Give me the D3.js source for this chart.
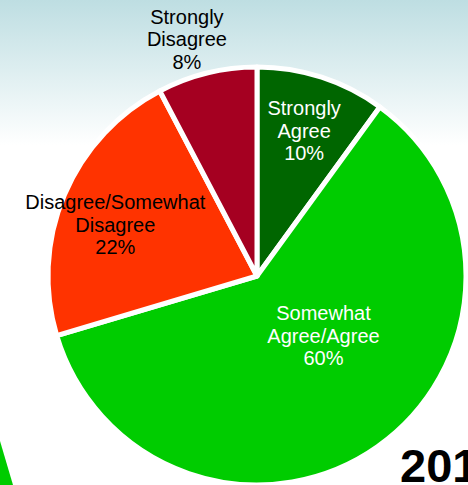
<!DOCTYPE html>
<html>
<head>
<meta charset="utf-8">
<script src="https://cdn.jsdelivr.net/npm/d3@7"></script>
<style>
  html, body { margin: 0; padding: 0; background: #fff; }
  svg { display: block; }
  text { font-family: Arial, "Liberation Sans", sans-serif; }
</style>
</head>
<body>
<svg id="chart" width="468" height="485"></svg>
<script>
// ---- data ----
const categories = ["Strongly\nAgree", "Somewhat\nAgree/Agree", "Disagree/Somewhat\nDisagree", "Strongly\nDisagree"];
const values = [10, 60.4, 21.9, 7.7];
const colors = ["#006600", "#00CC00", "#FF3300", "#A50021"];
const labelColors = ["#ffffff", "#ffffff", "#000000", "#000000"];
const yearLabel = "201";

// ---- layout ----
const W = 468, H = 485;
const cx = 257, cy = 276, R = 209;
const labelRadius = [0.70, 0.45, 0.71, 1.15];   // fraction of R
const labelShift = [0.8, -9.7, -5.6, -3.1];     // degrees from slice mid-angle

const svg = d3.select("#chart");

// background gradient
const defs = svg.append("defs");
const grad = defs.append("linearGradient").attr("id", "bg").attr("x1", 0).attr("y1", 0).attr("x2", 0).attr("y2", 1);
grad.append("stop").attr("offset", "0%").attr("stop-color", "#bedee2");
grad.append("stop").attr("offset", "100%").attr("stop-color", "#ffffff");
svg.append("rect").attr("x", 0).attr("y", 0).attr("width", W).attr("height", 145).attr("fill", "url(#bg)");

// decoration: edge of a neighbouring green shape at bottom-left
svg.append("path").attr("d", "M0,441 L13,485 L0,485 Z").attr("fill", "#00CC00");

const pie = d3.pie().sort(null).value(d => d);
const arcs = pie(values);
const arc = d3.arc().innerRadius(0).outerRadius(R);

const g = svg.append("g").attr("transform", `translate(${cx},${cy})`);
g.selectAll("path.slice").data(arcs).enter().append("path")
  .attr("class", "slice")
  .attr("d", arc)
  .attr("fill", (d, i) => colors[i])
  .attr("stroke", "#ffffff")
  .attr("stroke-width", 5)
  .attr("stroke-linejoin", "round");

const fs = 20, lh = 22.5;
arcs.forEach((d, i) => {
  const mid = (d.startAngle + d.endAngle) / 2 + labelShift[i] * Math.PI / 180;
  const r = labelRadius[i] * R;
  const x = r * Math.sin(mid), y = -r * Math.cos(mid);
  const lines = categories[i].split("\n").concat([Math.round(values[i]) + "%"]);
  const t = g.append("text")
    .attr("text-anchor", "middle")
    .attr("font-size", fs)
    .attr("fill", labelColors[i]);
  lines.forEach((ln, k) => {
    t.append("tspan").attr("x", x).attr("y", y + (k - 1) * lh).text(ln);
  });
});

svg.append("text")
  .attr("x", 400).attr("y", 482)
  .attr("font-size", 47).attr("font-weight", "bold").attr("fill", "#000")
  .text(yearLabel);
</script>
</body>
</html>
